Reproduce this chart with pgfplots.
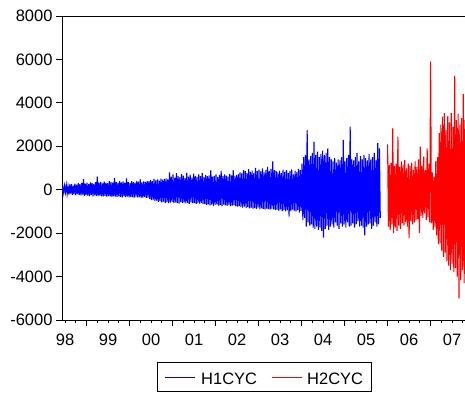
\documentclass[border=0pt]{standalone}
\usepackage{pgfplots}
\usepackage{pgfplotstable}
\pgfplotsset{compat=1.18}
\usepackage{fontspec}
\setmainfont{Liberation Sans}
\definecolor{eblue}{RGB}{0,0,255}
\definecolor{ered}{RGB}{255,0,0}
\pgfplotstableread[row sep=\\]{y\\
-80\\120\\-150\\180\\-120\\210\\-190\\150\\-220\\240\\
-180\\260\\-230\\190\\-210\\280\\-250\\230\\-200\\300\\
-240\\260\\-260\\310\\-230\\490\\-280\\280\\-250\\320\\
-270\\250\\-290\\340\\-240\\300\\-300\\270\\-260\\350\\
-280\\600\\-290\\330\\-270\\360\\-300\\290\\-310\\380\\
-280\\330\\-320\\300\\-290\\390\\-310\\350\\-330\\320\\
-300\\540\\-320\\360\\-340\\310\\-300\\400\\-330\\340\\
-350\\380\\-310\\320\\-340\\520\\-320\\360\\-350\\300\\
-330\\390\\-340\\350\\-360\\330\\-320\\400\\-350\\370\\
-340\\480\\-370\\340\\-360\\380\\-330\\360\\-380\\410\\
-360\\390\\-420\\450\\-480\\400\\-460\\500\\-520\\430\\
-500\\470\\-560\\420\\-530\\510\\-580\\460\\-550\\490\\
-600\\520\\-570\\480\\-620\\800\\-590\\600\\-560\\700\\
-620\\550\\-580\\760\\-600\\620\\-640\\580\\-570\\720\\
-610\\650\\-590\\540\\-630\\780\\-600\\600\\-650\\690\\
-580\\560\\-620\\740\\-600\\640\\-650\\590\\-620\\700\\
-640\\620\\-600\\770\\-660\\580\\-650\\680\\-700\\620\\
-680\\660\\-720\\900\\-690\\600\\-740\\640\\-700\\710\\
-680\\580\\-730\\680\\-710\\880\\-750\\630\\-690\\700\\
-720\\650\\-740\\600\\-700\\720\\-760\\660\\-730\\900\\
-710\\640\\-750\\680\\-780\\720\\-760\\800\\-800\\750\\
-820\\900\\-780\\850\\-840\\760\\-800\\950\\-860\\820\\
-830\\880\\-870\\780\\-850\\1000\\-880\\860\\-820\\920\\
-900\\840\\-860\\980\\-880\\800\\-910\\900\\-870\\1050\\
-890\\870\\-920\\960\\-880\\1300\\-900\\900\\-940\\850\\
-920\\800\\-960\\880\\-900\\760\\-980\\920\\-940\\820\\
-1000\\900\\-950\\780\\-1240\\860\\-980\\940\\-920\\700\\
-960\\880\\-1000\\820\\-940\\960\\-1050\\900\\-980\\1200\\
-1400\\1500\\-1300\\1600\\-1700\\2750\\-1500\\1400\\-1650\\1550\\
-1600\\1700\\-1750\\2200\\-1800\\1600\\-1700\\1750\\-1850\\1500\\
-1750\\1650\\-1900\\1800\\-2210\\1600\\-1800\\1700\\-1650\\1900\\
-1850\\1500\\-1700\\1400\\-1600\\1300\\-1750\\1450\\-1500\\1250\\
-1650\\1400\\-1800\\1350\\-1550\\1500\\-1700\\2290\\-1600\\1300\\
-1750\\1450\\-1500\\1600\\-1700\\2900\\-1650\\1400\\-1550\\1350\\
-1750\\1500\\-1600\\1700\\-1450\\1300\\-1700\\1550\\-1650\\1400\\
-1750\\1600\\-2100\\1450\\-1700\\1350\\-1600\\1650\\-1550\\1400\\
-1800\\1500\\-1650\\1700\\-1500\\1350\\-1700\\2150\\-1600\\1900\\
-1300\\
}\hone
\pgfplotstableread[row sep=\\]{y\\
2090\\-1700\\1150\\-1860\\1230\\-1600\\2830\\-2000\\1100\\-1750\\
1200\\-1900\\2440\\-1650\\1050\\-1800\\1300\\-1540\\1150\\-1650\\
1370\\-1500\\980\\-1700\\1200\\-2230\\1100\\-1450\\1250\\-1600\\
900\\-1500\\1300\\-1400\\1050\\-1350\\1400\\-2000\\1980\\-1200\\
1100\\-1300\\1520\\-1080\\900\\-1400\\1900\\-1250\\1200\\-1500\\
5900\\-1540\\800\\-1860\\600\\-1700\\1300\\-2100\\1500\\-2500\\
2600\\-2460\\3000\\-2800\\3360\\-3090\\3530\\-2900\\2750\\-3300\\
3400\\-3500\\3100\\-3700\\3530\\-3400\\2900\\-3800\\5240\\-3600\\
3200\\-4000\\3500\\-5000\\3000\\-4160\\3300\\-3700\\4410\\-4300\\
3200\\
}\htwo
\begin{document}
\begin{tikzpicture}
\useasboundingbox (0,0) rectangle (465pt,394pt);
\begin{axis}[
  at={(62pt,74pt)}, anchor=south west,
  scale only axis, width=403pt, height=304pt,
  font=\fontsize{16.5}{19}\selectfont,
  axis x line*=box, axis y line*=left,
  axis line style={line width=0.8pt},
  xmin=1998.43, xmax=2007.80,
  ymin=-6000, ymax=8000,
  ytick={-6000,-4000,-2000,0,2000,4000,6000,8000},
  yticklabels={-6000,-4000,-2000,0,2000,4000,6000,8000},
  xtick={1999,2000,2001,2002,2003,2004,2005,2006,2007},
  xticklabels={},
  minor xtick={1998.5,1998.75,1999,1999.25,1999.5,1999.75,2000,2000.25,2000.5,2000.75,2001,2001.25,2001.5,2001.75,2002,2002.25,2002.5,2002.75,2003,2003.25,2003.5,2003.75,2004,2004.25,2004.5,2004.75,2005,2005.25,2005.5,2005.75,2006,2006.25,2006.5,2006.75,2007,2007.25,2007.5,2007.75},
  extra x ticks={1998.5,1999.5,2000.5,2001.5,2002.5,2003.5,2004.5,2005.5,2006.5,2007.5},
  extra x tick labels={98,99,00,01,02,03,04,05,06,07},
  extra x tick style={major tick length=0pt, tick label style={yshift=-10pt}},
  xtick pos=bottom, ytick pos=left,
  tick align=outside,
  major tick length=6pt, minor tick length=3pt,
  tick style={black, line width=0.8pt},
]
\addplot[eblue, line width=1.1pt] table[x expr={1998.43+0.02*\coordindex}, y=y]{\hone};
\addplot[ered, line width=1.1pt] table[x expr={2006.0+0.02*\coordindex}, y=y]{\htwo};
\end{axis}
% legend
\draw[black, line width=0.8pt] (157pt,2.5pt) rectangle (371pt,31.5pt);
\draw[draw=eblue, line width=1.2pt] (164.5pt,16.5pt) -- (194.5pt,16.5pt);
\node[anchor=base west, inner sep=0pt, font=\fontsize{16.5}{19}\selectfont] at (201pt,10pt) {H1CYC};
\draw[draw=ered, line width=1.2pt] (272pt,16.5pt) -- (302pt,16.5pt);
\node[anchor=base west, inner sep=0pt, font=\fontsize{16.5}{19}\selectfont] at (307pt,10pt) {H2CYC};
\end{tikzpicture}
\end{document}
